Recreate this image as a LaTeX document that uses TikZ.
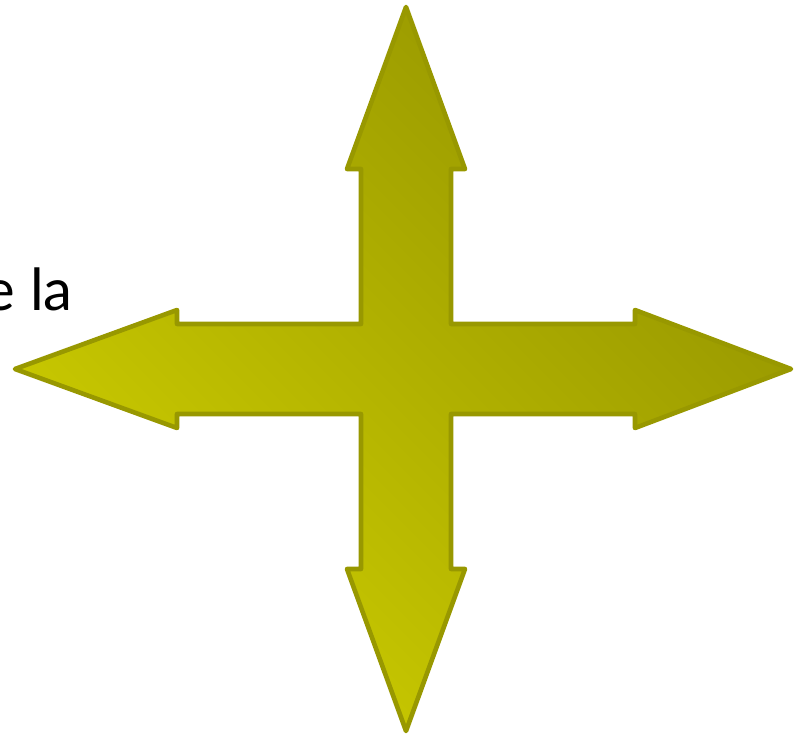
\documentclass[tikz,border=0pt]{standalone}
\usepackage{fontspec}
\setsansfont{Lato}
\usetikzlibrary{calc}
\definecolor{olvline}{RGB}{152,152,0}
\definecolor{olvlite}{RGB}{206,206,0}
\definecolor{olvdark}{RGB}{148,148,0}
\tikzset{
  crossarrow/.style={draw=olvline, line width=4.6pt, line join=round,
    top color=olvdark, bottom color=olvlite, shading angle=-45},
  cuttext/.style={font=\sffamily\fontsize{58}{60}\selectfont,
    anchor=base east, inner sep=0pt}
}

\begin{document}
\begin{tikzpicture}[x=1pt, y=-1pt]
  \useasboundingbox (0,0) rectangle (794,736);
  % label, cut off at the left edge
  \node[cuttext] (lbl) at (73,310) {e la};

  % four-way arrow
  \draw[crossarrow] (406,7) -- (465,169) -- (451,169) -- (451,324)
    -- (635,324) -- (635,310) -- (791,369) -- (635,428) -- (635,414)
    -- (451,414) -- (451,569) -- (465,569) -- (406,731) -- (347,569)
    -- (361,569) -- (361,414) -- (177,414) -- (177,428) -- (15,369)
    -- (177,310) -- (177,324) -- (361,324) -- (361,169) -- (347,169)
    -- cycle;
\end{tikzpicture}
\end{document}
